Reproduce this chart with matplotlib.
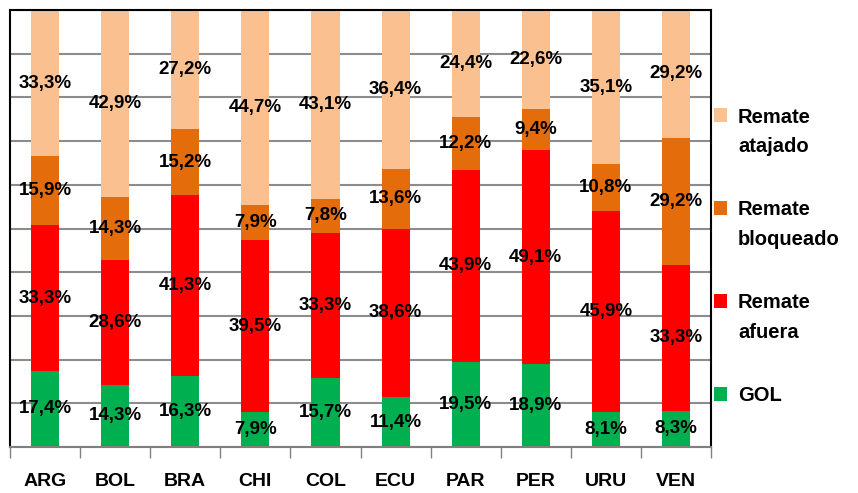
import matplotlib
matplotlib.use("Agg")
import matplotlib.pyplot as plt
import matplotlib.patches as mpatches
from matplotlib.legend_handler import HandlerPatch
import numpy as np

categories = ["ARG", "BOL", "BRA", "CHI", "COL", "ECU", "PAR", "PER", "URU", "VEN"]
gol = [17.4, 14.3, 16.3, 7.9, 15.7, 11.4, 19.5, 18.9, 8.1, 8.3]
afuera = [33.3, 28.6, 41.3, 39.5, 33.3, 38.6, 43.9, 49.1, 45.9, 33.3]
bloqueado = [15.9, 14.3, 15.2, 7.9, 7.8, 13.6, 12.2, 9.4, 10.8, 29.2]
atajado = [33.3, 42.9, 27.2, 44.7, 43.1, 36.4, 24.4, 22.6, 35.1, 29.2]

series = [
    ("GOL", gol, "#00B050"),
    ("Remate\nafuera", afuera, "#FF0000"),
    ("Remate\nbloqueado", bloqueado, "#E46C0A"),
    ("Remate\natajado", atajado, "#FAC090"),
]

plt.rcParams["font.family"] = ["Liberation Sans", "DejaVu Sans"]

fig = plt.figure(figsize=(8.58, 4.93), dpi=100)
ax = fig.add_axes([0.0117, 0.0933, 0.8170, 0.8864])

x = np.arange(len(categories))
bottom = np.zeros(len(categories))
proxies = []
for name, vals, col in series:
    vals = np.array(vals)
    ax.bar(x, vals, 0.4, bottom=bottom, color=col, label=name, zorder=2)
    proxies.append(mpatches.Patch(facecolor=col, edgecolor="none", label=name))
    for xi, v, bt in zip(x, vals, bottom):
        ax.text(xi, bt + v / 2, f"{v:.1f}%".replace(".", ","), ha="center", va="center",
                fontsize=13.5, fontweight="bold", color="black", zorder=3)
    bottom = bottom + vals

ax.set_xlim(-0.5, len(categories) - 0.5)
ax.set_ylim(0, 100)
ax.set_yticks(np.arange(0, 101, 10))
ax.yaxis.grid(True, color="#8c8c8c", linewidth=1.5, zorder=0)
ax.tick_params(axis="y", left=False, labelleft=False)
ax.set_xticks(np.arange(-0.5, len(categories), 1))
ax.set_xticklabels([])
ax.tick_params(axis="x", which="major", direction="out", length=8, width=1, color="#808080")
ax.set_xticks(x, minor=True)
ax.set_xticklabels(categories, minor=True, fontsize=14, fontweight="bold")
ax.tick_params(axis="x", which="minor", length=0, pad=19)
for s in ["left", "top", "right"]:
    ax.spines[s].set_color("black")
    ax.spines[s].set_linewidth(1.5)
ax.spines["bottom"].set_color("#808080")
ax.spines["bottom"].set_linewidth(1.5)


def make_patch(shift):
    def f(legend, orig_handle, xdescent, ydescent, width, height, fontsize):
        return mpatches.Rectangle((-xdescent, -ydescent + shift * fontsize), width, height)
    return f


leg_handles = proxies[::-1]
hmap = {}
for h in leg_handles:
    two_lines = "\n" in h.get_label()
    hmap[h] = HandlerPatch(patch_func=make_patch(0.85 if two_lines else 0.0))

leg = fig.legend(leg_handles, [h.get_label() for h in leg_handles],
                 loc="center left", bbox_to_anchor=(0.832, 0.480), frameon=False,
                 borderpad=0, borderaxespad=0, handler_map=hmap,
                 prop={"size": 14.5, "weight": "bold"}, handlelength=0.65, handleheight=0.65,
                 handletextpad=0.55, labelspacing=2.2)
for t in leg.get_texts():
    t.set_linespacing(1.7)

fig.savefig("out.png", dpi=100)
